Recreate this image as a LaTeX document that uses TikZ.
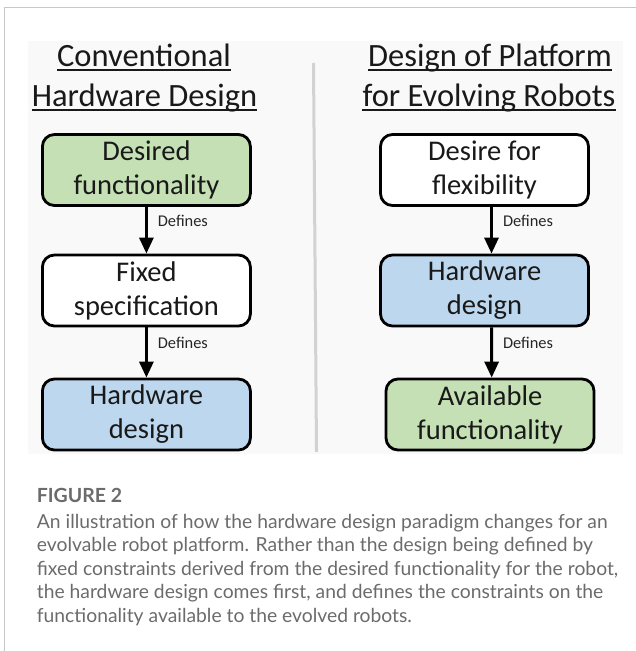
\documentclass[tikz,border=0pt]{standalone}
\usepackage{fontspec}
\setmainfont{Carlito}
\newfontfamily\capfont{Lato}
\usetikzlibrary{arrows.meta,positioning}
\definecolor{wantgreen}{HTML}{C5E0B4}
\definecolor{hwblue}{HTML}{BDD7EE}
\definecolor{panelgray}{HTML}{F9F9F9}
\definecolor{framegray}{HTML}{C8C8C8}
\definecolor{divgray}{HTML}{D2D2D2}
\definecolor{capgray}{HTML}{6B6B6B}
\begin{document}
\begin{tikzpicture}[x=1pt,y=1pt,>={Triangle[width=14pt,length=16pt]},
head/.style={inner sep=0pt,anchor=base,text=black!90,font=\fontsize{32.5}{39}\selectfont},
headrule/.style={line width=1.8pt,black!90},
stage/.style={draw,line width=2.8pt,rounded corners=12pt,minimum width=208pt,minimum height=71pt,align=center,text=black!90,font=\fontsize{28.5}{34}\selectfont},
link/.style={->,line width=3pt},
defines/.style={pos=0.3,right=10pt,inner sep=0pt,text=black!85,font=\fontsize{16.4}{20}\selectfont},
captext/.style={anchor=base west,inner sep=0pt,text=capgray,font=\capfont\fontsize{19.3}{23.5}\selectfont},]
\useasboundingbox (0,0) rectangle (636,-651);
\draw[framegray,line width=1pt] (4,-651) -- (4,-7) -- (636,-7);
\fill[panelgray] (28,-41) rectangle (623,-454);
\draw[divgray,line width=3pt] (313.5,-63) -- (316.5,-452);

\node[head] (conv) at (144,-66) {Conventional};
\node[head] (hwdes) at (144.5,-106) {Hardware Design};
\node[head] (plat) at (490,-66) {Design of Platform};
\node[head] (evo) at (489,-106) {for Evolving Robots};
\draw[headrule] ([yshift=-4pt]conv.base west) -- ([yshift=-4pt]conv.base east);
\draw[headrule] ([yshift=-4pt]hwdes.base west) -- ([yshift=-4pt]hwdes.base east);
\draw[headrule] ([yshift=-4pt]plat.base west) -- ([yshift=-4pt]plat.base east);
\draw[headrule] ([yshift=-4pt]evo.base west) -- ([yshift=-4pt]evo.base east);

\node[stage,fill=wantgreen] (want) at (146.4,-170) {Desired\\functionality};
\node[stage,fill=white] (spec) at (146.4,-290.5) {Fixed\\specification};
\node[stage,fill=hwblue] (hw) at (146.4,-414.5) {Hardware\\design};
\node[stage,fill=white] (flex) at (484.5,-170) {Desire for\\flexibility};
\node[stage,fill=hwblue] (phw) at (484.5,-290.5) {Hardware\\design};
\node[stage,fill=wantgreen] (avail) at (490,-414.5) {Available\\functionality};

\draw[link] (want) -- node[defines] {Defines} (spec);
\draw[link] (spec) -- node[defines] {Defines} (hw);
\draw[link] ([xshift=7pt]flex.south) -- node[defines] {Defines} ([xshift=7pt]phw.north);
\draw[link] ([xshift=7pt]phw.south) -- node[defines] {Defines} ([xshift=1.7pt]avail.north);

\node[captext,font=\capfont\bfseries\fontsize{19.5}{23.5}\selectfont] (figno) at (36.7,-502.7) {FIGURE 2};
\node[captext,align=left] (cap) at (36.7,-622) {An illustration of how the hardware design paradigm changes for an\\
evolvable robot platform. Rather than the design being defined by\\
fixed constraints derived from the desired functionality for the robot,\\
the hardware design comes first, and defines the constraints on the\\
functionality available to the evolved robots.};
\end{tikzpicture}
\end{document}
